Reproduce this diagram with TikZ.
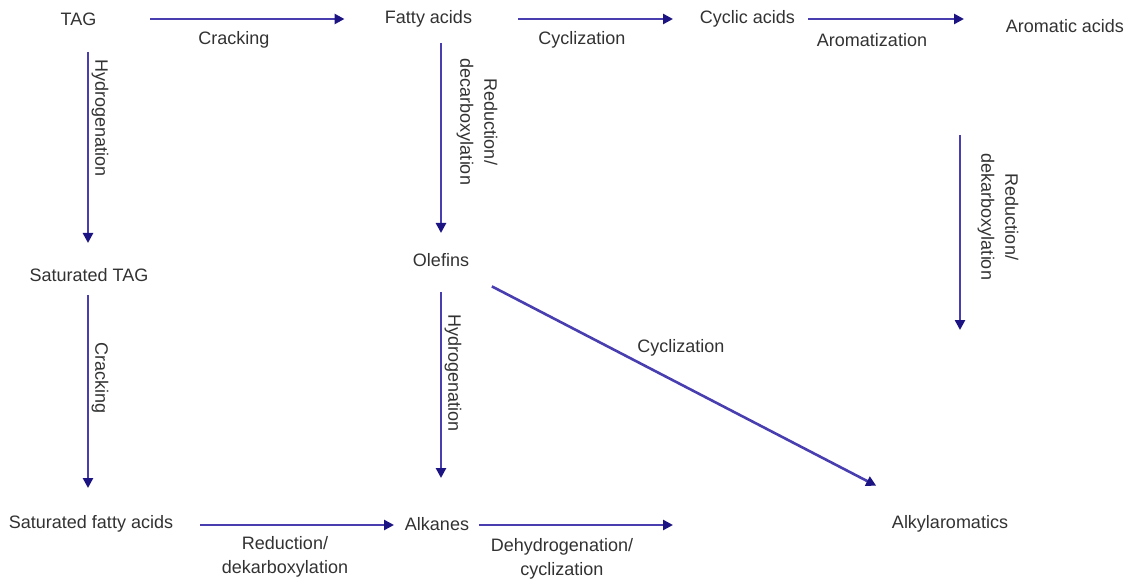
\documentclass[tikz,border=0pt]{standalone}
\usepackage{fontspec}
\setmainfont{Liberation Sans}
\usetikzlibrary{arrows.meta,calc}
\definecolor{arrline}{RGB}{72,62,176}
\definecolor{arrtip}{RGB}{28,20,130}
\definecolor{txt}{RGB}{50,50,50}
\tikzset{
  lbl/.style={inner sep=0pt, text=txt, font=\fontsize{18bp}{24bp}\selectfont, align=center},
  vlbl/.style={lbl, rotate=-90},
  arr/.style={draw=arrline, line width=2.6bp, -{Triangle[length=10bp,width=10bp,color=arrtip]}}
}
\begin{document}
\begin{tikzpicture}[x=1bp,y=-1bp]
\useasboundingbox (0,0) rectangle (1129,585);
% compounds
\node[lbl] (TAG)  at (78.5,19) {TAG};
\node[lbl] (FA)   at (428.5,19) {Fatty acids};
\node[lbl] (CA)   at (747.5,19) {Cyclic acids};
\node[lbl] (AR)   at (1065,26) {Aromatic acids};
\node[lbl] (STAG) at (89,275) {Saturated TAG};
\node[lbl] (SFA)  at (91,524) {Saturated fatty acids};
\node[lbl] (OL)   at (441,260) {Olefins};
\node[lbl] (AK)   at (437,524) {Alkanes};
\node[lbl] (AA)   at (950,524) {Alkylaromatics};
\coordinate (DH) at (673,525);
\coordinate (RV) at (960,330);
% connectors
\draw[arr] ($(TAG)+(71.5,0)$) -- ($(FA)+(-84,0)$);
\draw[arr] ($(FA)+(89.5,0)$) -- ($(CA)+(-74.5,0)$);
\draw[arr] ($(CA)+(60.5,0)$) -- ($(CA -| AR)+(-101,0)$);
\draw[arr] ($(STAG |- TAG)+(-1,33)$) -- ($(STAG)+(-1,-32)$);
\draw[arr] ($(STAG)+(-1,20)$) -- ($(STAG |- SFA)+(-1,-36)$);
\draw[arr] ($(SFA)+(109,1)$) -- ($(AK)+(-43,1)$);
\draw[arr] ($(AK)+(42,1)$) -- (DH);
\draw[arr] ($(OL |- FA)+(0,24)$) -- ($(OL)+(0,-27)$);
\draw[arr] ($(OL)+(0,32)$) -- ($(OL |- AK)+(0,-46)$);
\draw[arr] ($(OL)!0.1!(AA)$) -- ($(OL)!0.855!(AA)$);
\draw[arr] ($(AR -| RV)+(0,109)$) -- (RV);
% reaction labels
\node[lbl]  (l1)  at (234,40) {Cracking};
\node[lbl]  (l2)  at (582,40) {Cyclization};
\node[lbl]  (l3)  at (872,40) {Aromatization};
\node[vlbl] (l4)  at (100,118) {Hydrogenation};
\node[vlbl] (l5)  at (100,378) {Cracking};
\node[vlbl] (l6)  at (477,122) {Reduction/\\decarboxylation};
\node[vlbl] (l7)  at (453,373) {Hydrogenation};
\node[lbl]  (l8)  at (681,348) {Cyclization};
\node[vlbl] (l9)  at (998,217) {Reduction/\\dekarboxylation};
\node[lbl]  (l10) at (285,557) {Reduction/\\dekarboxylation};
\node[lbl]  (l11) at (562,559) {Dehydrogenation/\\cyclization};
\end{tikzpicture}
\end{document}
